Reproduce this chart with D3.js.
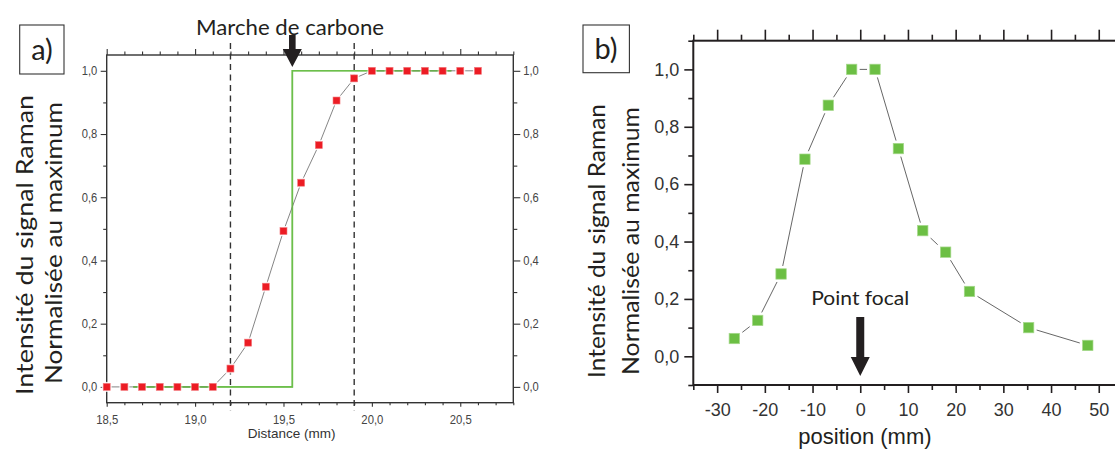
<!DOCTYPE html>
<html><head><meta charset="utf-8">
<script src="https://cdn.jsdelivr.net/npm/d3@7"></script>
<style>body{margin:0;background:#fff}svg{display:block}</style>
</head><body><svg id="c" width="1115" height="453"></svg>
<script>
// ---------- Data: panel a) ----------
const stepX = [18.5,18.6,18.7,18.8,18.9,19.0,19.1,19.2,19.3,19.4,19.5,19.6,19.7,19.8,19.9,20.0,20.1,20.2,20.3,20.4,20.5,20.6];
const stepY = [0,0,0,0,0,0,0,0.058,0.14,0.317,0.493,0.646,0.765,0.906,0.976,1,1,1,1,1,1,1];
const edgeX = [18.65,19.55,19.55,20.45];
const edgeY = [0,0,1,1];
const boundsX = [19.2,19.9];
const edgePosition = 19.55;
const leftXTicks = [18.5,19.0,19.5,20.0,20.5];
const leftXMinor = [18.6,18.7,18.8,18.9,19.1,19.2,19.3,19.4,19.6,19.7,19.8,19.9,20.1,20.2,20.3,20.4,20.6,20.7,20.8];
const leftYTicks = [0,0.2,0.4,0.6,0.8,1.0];
const leftYMinor = [0.1,0.3,0.5,0.7,0.9];
// ---------- Data: panel b) ----------
const focusX = [-26.4,-21.5,-16.6,-11.6,-6.7,-1.8,3.1,8.0,13.1,17.9,22.9,35.3,47.7];
const focusY = [0.062,0.125,0.287,0.687,0.875,1.0,1.0,0.724,0.438,0.363,0.226,0.10,0.038];
const focalPoint = 0;
const rightXTicks = [-30,-20,-10,0,10,20,30,40,50];
const rightXMinor = [-35,-25,-15,-5,5,15,25,35,45,55];
const rightYTicks = [0,0.2,0.4,0.6,0.8,1.0];
const rightYMinor = [-0.1,0.1,0.3,0.5,0.7,0.9,1.1];

const fmt = d => d.toFixed(1).replace('.', ',');
const svg = d3.select('#c');
const TXT = "Lato, 'Open Sans', sans-serif";
const NUM = "'Liberation Sans', Arial, sans-serif";

function squeeze(sel, w){ sel.attr('textLength', w).attr('lengthAdjust','spacingAndGlyphs'); }

// ================= Panel a =================
const xL = d3.scaleLinear().domain([18.5,20.8]).range([106.7,513.3]);
const yL = d3.scaleLinear().domain([-0.05,1.05]).range([402.7,55]);
const gA = svg.append('g');

function styleAxis(g, col){
  g.select('.domain').remove();
  g.selectAll('line').attr('stroke', col).attr('stroke-width',1.1);
  g.selectAll('text').attr('fill','#444').attr('font-family',NUM);
}
// bottom
gA.append('g').attr('transform',`translate(0,${yL(-0.05)})`)
  .call(d3.axisBottom(xL).tickValues(leftXTicks).tickFormat(fmt).tickSize(4).tickPadding(8))
  .call(g=>{styleAxis(g,'#333'); g.selectAll('text').attr('font-size',13).each(function(){squeeze(d3.select(this),22);});});
gA.append('g').attr('transform',`translate(0,${yL(-0.05)})`)
  .call(d3.axisBottom(xL).tickValues(leftXMinor).tickFormat('').tickSize(2.5))
  .call(g=>styleAxis(g,'#333'));
// top
gA.append('g').attr('transform',`translate(0,${yL(1.05)})`)
  .call(d3.axisTop(xL).tickValues(leftXTicks).tickFormat('').tickSize(6))
  .call(g=>styleAxis(g,'#333'));
gA.append('g').attr('transform',`translate(0,${yL(1.05)})`)
  .call(d3.axisTop(xL).tickValues(leftXMinor).tickFormat('').tickSize(3.5))
  .call(g=>styleAxis(g,'#333'));
// left
gA.append('g').attr('transform',`translate(${xL(18.5)},0)`)
  .call(d3.axisLeft(yL).tickValues(leftYTicks).tickFormat(fmt).tickSize(6).tickPadding(3.5))
  .call(g=>{styleAxis(g,'#333'); g.selectAll('text').attr('font-size',12).each(function(){squeeze(d3.select(this),15.5);});});
gA.append('g').attr('transform',`translate(${xL(18.5)},0)`)
  .call(d3.axisLeft(yL).tickValues(leftYMinor).tickFormat('').tickSize(3.5))
  .call(g=>styleAxis(g,'#333'));
// right
gA.append('g').attr('transform',`translate(${xL(20.8)},0)`)
  .call(d3.axisRight(yL).tickValues(leftYTicks).tickFormat(fmt).tickSize(7).tickPadding(3))
  .call(g=>{styleAxis(g,'#333'); g.selectAll('text').attr('font-size',12).each(function(){squeeze(d3.select(this),15.5);});});
gA.append('g').attr('transform',`translate(${xL(20.8)},0)`)
  .call(d3.axisRight(yL).tickValues(leftYMinor).tickFormat('').tickSize(4))
  .call(g=>styleAxis(g,'#333'));
// frame
gA.append('rect').attr('x',xL(18.5)).attr('y',yL(1.05)).attr('width',xL(20.8)-xL(18.5)).attr('height',yL(-0.05)-yL(1.05))
  .attr('fill','none').attr('stroke','#333').attr('stroke-width',1.4);
// dashed bounds
gA.selectAll('line.bd').data(boundsX).join('line').attr('class','bd')
  .attr('x1',d=>xL(d)).attr('x2',d=>xL(d)).attr('y1',yL(1.05)-12).attr('y2',yL(-0.05)+8)
  .attr('stroke','#333').attr('stroke-width',1.4).attr('stroke-dasharray','6,4.5');
// green step
gA.append('path').datum(d3.zip(edgeX,edgeY))
  .attr('d',d3.line().x(d=>xL(d[0])).y(d=>yL(d[1])))
  .attr('fill','none').attr('stroke','#6dbf4b').attr('stroke-width',1.6);
// red line + squares
const ptsL = d3.zip(stepX,stepY);
gA.append('path').datum(ptsL).attr('d',d3.line().x(d=>xL(d[0])).y(d=>yL(d[1])))
  .attr('fill','none').attr('stroke','#666').attr('stroke-width',0.8);
gA.selectAll('rect.hl').data(ptsL).join('rect').attr('class','hl')
  .attr('x',d=>xL(d[0])-5).attr('y',d=>yL(d[1])-5).attr('width',10).attr('height',10).attr('fill','#fff').attr('fill-opacity',0.85);
gA.append('path').datum(d3.zip(edgeX,edgeY))
  .attr('d',d3.line().x(d=>xL(d[0])).y(d=>yL(d[1])))
  .attr('fill','none').attr('stroke','#6dbf4b').attr('stroke-width',1.6).attr('stroke-opacity',0.6);
gA.selectAll('rect.pt').data(ptsL).join('rect').attr('class','pt')
  .attr('x',d=>xL(d[0])-3.5).attr('y',d=>yL(d[1])-3.5).attr('width',7).attr('height',7)
  .attr('fill','#ec1c24').attr('stroke','#f37a7f').attr('stroke-width',0.6);
// x title
gA.append('text').attr('x',(xL(18.5)+xL(20.8))/2-18.3).attr('y',437.5).attr('text-anchor','middle')
  .attr('font-family',NUM).attr('font-size',13.5).attr('fill','#333').text('Distance (mm)');
// y titles
const yTa = gA.append('g');
yTa.append('text').attr('transform','translate(33,245) rotate(-90)').attr('text-anchor','middle')
  .attr('font-family',TXT).attr('font-size',24).attr('fill','#231f20').text('Intensité du signal Raman').call(s=>squeeze(s,300));
yTa.append('text').attr('transform','translate(62,243) rotate(-90)').attr('text-anchor','middle')
  .attr('font-family',TXT).attr('font-size',24).attr('fill','#231f20').text('Normalisée au maximum').call(s=>squeeze(s,282));
// annotation
gA.append('text').attr('x',290).attr('y',35).attr('text-anchor','middle')
  .attr('font-family',TXT).attr('font-size',21).attr('fill','#231f20').text('Marche de carbone').call(s=>squeeze(s,188));
const ax = xL(edgePosition);
gA.append('path').attr('d',`M${ax-3.3},35 L${ax+3.3},35 L${ax+3.3},49 L${ax+9.5},49 L${ax},67 L${ax-9.5},49 L${ax-3.3},49 Z`).attr('fill','#231f20');
// label box
gA.append('rect').attr('x',19.7).attr('y',25).attr('width',44.3).attr('height',49).attr('fill','none').attr('stroke','#333').attr('stroke-width',1.1);
gA.append('text').attr('x',42).attr('y',60).attr('text-anchor','middle').attr('font-family',TXT).attr('font-size',29).attr('fill','#231f20').text('a)');

// ================= Panel b =================
const xR = d3.scaleLinear().domain([-35,55]).range([693.3,1122.6]);
const yR = d3.scaleLinear().domain([-0.1,1.1]).range([385,40.7]);
const gB = svg.append('g');
function styleB(g){
  g.select('.domain').remove();
  g.selectAll('line').attr('stroke','#231f20').attr('stroke-width',1.6);
  g.selectAll('text').attr('fill','#333').attr('font-family',NUM).attr('font-size',18);
}
gB.append('g').attr('transform',`translate(0,${yR(-0.1)})`)
  .call(d3.axisBottom(xR).tickValues(rightXTicks).tickFormat(d=>d).tickSize(8).tickPadding(10)).call(styleB);
gB.append('g').attr('transform',`translate(0,${yR(-0.1)})`)
  .call(d3.axisBottom(xR).tickValues(rightXMinor).tickFormat('').tickSize(5)).call(styleB);
gB.append('g').attr('transform',`translate(0,${yR(1.1)})`)
  .call(d3.axisTop(xR).tickValues(rightXTicks).tickFormat('').tickSize(11)).call(styleB);
gB.append('g').attr('transform',`translate(0,${yR(1.1)})`)
  .call(d3.axisTop(xR).tickValues(rightXMinor).tickFormat('').tickSize(6)).call(styleB);
gB.append('g').attr('transform',`translate(${xR(-35)},0)`)
  .call(d3.axisLeft(yR).tickValues(rightYTicks).tickFormat(fmt).tickSize(9).tickPadding(5)).call(styleB);
gB.append('g').attr('transform',`translate(${xR(-35)},0)`)
  .call(d3.axisLeft(yR).tickValues(rightYMinor).tickFormat('').tickSize(5)).call(styleB);
gB.append('rect').attr('x',xR(-35)).attr('y',yR(1.1)).attr('width',xR(55)-xR(-35)).attr('height',yR(-0.1)-yR(1.1))
  .attr('fill','none').attr('stroke','#231f20').attr('stroke-width',2);
const ptsR = d3.zip(focusX,focusY);
gB.append('path').datum(ptsR).attr('d',d3.line().x(d=>xR(d[0])).y(d=>yR(d[1])))
  .attr('fill','none').attr('stroke','#555').attr('stroke-width',0.9);
gB.selectAll('rect.hl').data(ptsR).join('rect').attr('class','hl')
  .attr('x',d=>xR(d[0])-8).attr('y',d=>yR(d[1])-8).attr('width',16).attr('height',16).attr('fill','#fff');
gB.selectAll('rect.pt').data(ptsR).join('rect').attr('class','pt')
  .attr('x',d=>xR(d[0])-5.2).attr('y',d=>yR(d[1])-5.2).attr('width',10.4).attr('height',10.4)
  .attr('fill','#6cbf44').attr('stroke','#a6d98c').attr('stroke-width',0.7);
gB.append('text').attr('x',(xR(-35)+xR(55))/2-43).attr('y',444).attr('text-anchor','middle')
  .attr('font-family',NUM).attr('font-size',22).attr('fill','#231f20').text('position (mm)');
gB.append('text').attr('transform','translate(605,241) rotate(-90)').attr('text-anchor','middle')
  .attr('font-family',TXT).attr('font-size',24).attr('fill','#231f20').text('Intensité du signal Raman').call(s=>squeeze(s,274));
gB.append('text').attr('transform','translate(639,241) rotate(-90)').attr('text-anchor','middle')
  .attr('font-family',TXT).attr('font-size',24).attr('fill','#231f20').text('Normalisée au maximum').call(s=>squeeze(s,268));
gB.append('text').attr('x',xR(focalPoint)).attr('y',305).attr('text-anchor','middle')
  .attr('font-family',TXT).attr('font-size',19.5).attr('fill','#231f20').text('Point focal').call(s=>squeeze(s,98));
const bx = xR(focalPoint);
gB.append('path').attr('d',`M${bx-4},317 L${bx+4},317 L${bx+4},357 L${bx+9.5},357 L${bx},376 L${bx-9.5},357 L${bx-4},357 Z`).attr('fill','#231f20');
gB.append('rect').attr('x',583).attr('y',25).attr('width',46.4).attr('height',47.7).attr('fill','none').attr('stroke','#333').attr('stroke-width',1.1);
gB.append('text').attr('x',606).attr('y',59).attr('text-anchor','middle').attr('font-family',TXT).attr('font-size',29).attr('fill','#231f20').text('b)');
</script></body></html>
